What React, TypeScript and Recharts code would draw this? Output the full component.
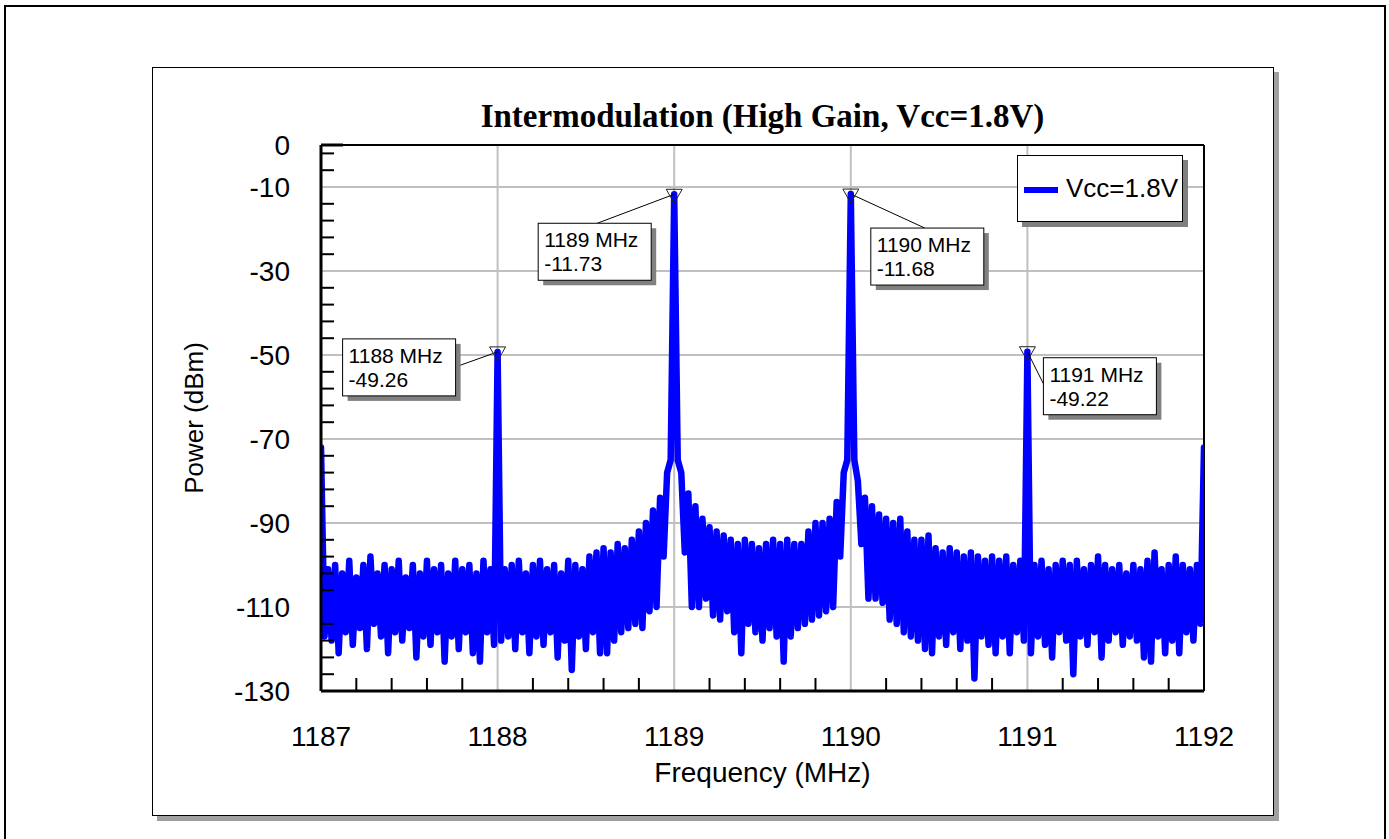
import React from 'react';
import { LineChart, Line, XAxis, YAxis, CartesianGrid, ReferenceLine, ReferenceDot, Legend } from 'recharts';

// spectrum trace, 0.02 MHz per point, one array per MHz
const START_MHZ = 1187;
const STEP_MHZ = 0.02;

const SEG_1187 = [
  -72, -117, -101, -118, -100, -121, -102, -116, -99, -119,
  -103, -115, -100, -120, -98, -114, -102, -117, -100, -121,
  -101, -116, -99, -118, -103, -115, -100, -122, -102, -117,
  -99, -119, -101, -116, -100, -123, -102, -117, -99, -120,
  -101, -116, -100, -121, -102, -123, -99, -116, -101, -119,
];
const SEG_1188 = [
  -49.26, -118, -101, -117, -100, -120, -99, -116, -102, -121,
  -100, -117, -99, -119, -101, -116, -100, -122, -102, -118,
  -99, -125, -100, -117, -101, -120, -98, -116, -97, -121,
  -96, -121, -97, -118, -95, -116, -96, -115, -94, -114,
  -92, -115, -90, -111, -87, -110, -84, -98, -78, -75,
];
const SEG_1189 = [
  -11.73, -75, -78, -97, -83, -110, -86, -110, -89, -108,
  -91, -112, -92, -113, -93, -111, -94, -116, -95, -121,
  -94, -114, -95, -116, -96, -118, -95, -115, -94, -117,
  -95, -123, -94, -117, -95, -115, -95, -114, -92, -113,
  -90, -112, -90, -111, -89, -110, -85, -98, -78, -75,
];
const SEG_1190 = [
  -11.68, -75, -80, -95, -84, -108, -86, -108, -88, -109,
  -89, -113, -90, -114, -89, -116, -92, -117, -94, -118,
  -94, -120, -93, -121, -96, -117, -97, -119, -96, -116,
  -97, -120, -98, -118, -97, -127, -98, -117, -99, -119,
  -98, -121, -99, -117, -98, -121, -100, -116, -99, -118,
];
const SEG_1191 = [
  -49.22, -121, -100, -117, -99, -119, -101, -122, -100, -116,
  -99, -118, -100, -126, -99, -117, -101, -119, -100, -116,
  -98, -122, -100, -118, -101, -116, -100, -119, -102, -117,
  -100, -118, -101, -122, -99, -123, -97, -117, -101, -121,
  -100, -118, -98, -121, -100, -116, -101, -118, -100, -114,
];
const LAST_POINT = -72;

const X_LABELS = [1187, 1188, 1189, 1190, 1191, 1192];
const X_MINOR = [
  1187.2, 1187.4, 1187.6, 1187.8, 1188.2, 1188.4, 1188.6, 1188.8,
  1189.2, 1189.4, 1189.6, 1189.8, 1190.2, 1190.4, 1190.6, 1190.8,
  1191.2, 1191.4, 1191.6, 1191.8,
];
const Y_LABELS = [0, -10, -30, -50, -70, -90, -110, -130];
const Y_MINOR = [
  -2, -6, -14, -18, -22, -26, -34, -38, -42, -46, -54, -58, -62,
  -66, -74, -78, -82, -86, -94, -98, -102, -106, -114, -118, -122, -126,
];
const GRID_X = [1188, 1189, 1190, 1191];
const GRID_Y = [-10, -30, -50, -70, -90, -110];

const MARKER_MHZ = [1188, 1189, 1190, 1191];
const MARKER_DBM = [-49.26, -11.73, -11.68, -49.22];
// where each marker's note box sits, relative to the marker
const NOTE_POS = [
  { dx: -155, dy: -13, lx: -42, ly: 15 },
  { dx: -136, dy: 29, lx: -77, ly: 29 },
  { dx: 20, dy: 34, lx: 74, ly: 34 },
  { dx: 16, dy: 6, lx: 16, ly: 32 },
];

const levels = [...SEG_1187, ...SEG_1188, ...SEG_1189, ...SEG_1190, ...SEG_1191, LAST_POINT];
const data = levels.map((p, i) => ({ freq: +(START_MHZ + i * STEP_MHZ).toFixed(2), power: p }));

const FONT = "Arial, 'Liberation Sans', sans-serif";

const XTick = (props: any) => {
  const { x, y, payload } = props;
  const v = payload.value;
  const major = X_LABELS.includes(v);
  return (
    <g>
      {!major && <line x1={x} x2={x} y1={y} y2={y - 13} stroke="#000" strokeWidth={2} />}
      {major && (
        <text x={x} y={y + 55} textAnchor="middle" fontSize={28} fontFamily={FONT} fill="#000">
          {v}
        </text>
      )}
    </g>
  );
};

const YTick = (props: any) => {
  const { x, y, payload } = props;
  const v = payload.value;
  const major = Y_LABELS.includes(v);
  return (
    <g>
      {!major && <line x1={x} x2={x + 13} y1={y} y2={y} stroke="#000" strokeWidth={2} />}
      {v === 0 && <line x1={x} x2={x + 22} y1={y} y2={y} stroke="#000" strokeWidth={3} />}
      {major && (
        <text x={x - 31} y={y} dy="0.35em" textAnchor="end" fontSize={28} fontFamily={FONT} fill="#000">
          {v}
        </text>
      )}
    </g>
  );
};

const Note = ({ cx, cy, i }: { cx: number; cy: number; i: number }) => {
  const p = NOTE_POS[i];
  const bx = cx + p.dx;
  const by = cy + p.dy;
  return (
    <g>
      <line x1={cx} y1={cy} x2={cx + p.lx} y2={cy + p.ly} stroke="#000" strokeWidth={1} />
      <polygon
        points={`${cx - 8},${cy - 5} ${cx + 8},${cy - 5} ${cx},${cy + 9}`}
        fill="none"
        stroke="#222"
        strokeWidth={1}
      />
      <rect x={bx + 5} y={by + 5} width={113} height={57} fill="#808080" />
      <rect x={bx} y={by} width={113} height={57} fill="#fff" stroke="#000" strokeWidth={1} />
      <text x={bx + 6} y={by + 24} fontSize={21} fontFamily={FONT} fill="#000">
        {MARKER_MHZ[i]} MHz
      </text>
      <text x={bx + 6} y={by + 48} fontSize={21} fontFamily={FONT} fill="#000">
        {MARKER_DBM[i].toFixed(2)}
      </text>
    </g>
  );
};

const LegendBox = (props: any) => {
  const item = props.payload && props.payload[0];
  return (
    <div style={{ position: 'relative', width: 166, height: 67 }}>
      <div style={{ position: 'absolute', left: 5, top: 5, width: 166, height: 67, background: '#808080' }} />
      <div
        style={{
          position: 'absolute', left: 0, top: 0, width: 164, height: 65,
          background: '#fff', border: '1px solid #000',
        }}
      >
        <div style={{ position: 'absolute', left: 6, top: 31, width: 34, height: 6, background: '#0000ff' }} />
        <div style={{ position: 'absolute', left: 48, top: 17, fontSize: 26, lineHeight: '30px', fontFamily: FONT, color: '#000' }}>
          {item ? item.value : 'Vcc=1.8V'}
        </div>
      </div>
    </div>
  );
};

export default function App() {
  return (
    <div
      style={{
        position: 'fixed', left: 0, top: 0, width: 1389, height: 839,
        overflow: 'hidden', background: '#fff', fontFamily: FONT,
      }}
    >
      <div style={{ position: 'absolute', left: 4, top: 5, width: 1378, height: 880, border: '2px solid #000' }} />
      <div
        style={{
          position: 'absolute', left: 152, top: 67, width: 1120, height: 747,
          border: '1px solid #000', background: '#fff', boxShadow: '5px 5px 0 #a0a0a0',
        }}
      />
      <div style={{ position: 'absolute', left: 0, top: 0 }}>
        <LineChart width={1389} height={839} data={data} margin={{ top: 145, right: 185, bottom: 48, left: 67 }}>
          <CartesianGrid
            horizontalValues={GRID_Y}
            verticalValues={GRID_X}
            stroke="#c0c0c0"
            strokeWidth={2}
            strokeDasharray=""
          />
          <XAxis
            dataKey="freq"
            type="number"
            domain={[1187, 1192]}
            allowDataOverflow
            ticks={[...X_LABELS, ...X_MINOR]}
            interval={0}
            tick={<XTick />}
            tickLine={false}
            tickSize={0}
            tickMargin={0}
            height={100}
            axisLine={{ stroke: '#000', strokeWidth: 3 }}
            label={{ value: 'Frequency (MHz)', position: 'insideBottom', offset: 9, fontSize: 28, fontFamily: FONT, fill: '#000' }}
          />
          <YAxis
            type="number"
            domain={[-130, 0]}
            allowDataOverflow
            ticks={[...Y_LABELS, ...Y_MINOR]}
            interval={0}
            tick={<YTick />}
            tickLine={false}
            tickSize={0}
            tickMargin={0}
            width={254}
            axisLine={{ stroke: '#000', strokeWidth: 3 }}
            label={{ value: 'Power (dBm)', angle: -90, position: 'center', fontSize: 26, fontFamily: FONT, fill: '#000' }}
          />
          <ReferenceLine y={0} stroke="#000" strokeWidth={2} />
          <ReferenceLine x={1192} stroke="#000" strokeWidth={2} />
          <Line
            type="linear"
            dataKey="power"
            name="Vcc=1.8V"
            stroke="#0000ff"
            strokeWidth={6.5}
            strokeLinejoin="round"
            strokeLinecap="round"
            dot={false}
            activeDot={false}
            isAnimationActive={false}
          />
          {MARKER_MHZ.map((f, i) => (
            <ReferenceDot
              key={f}
              x={f}
              y={MARKER_DBM[i]}
              r={0}
              ifOverflow="visible"
              shape={(p: any) => <Note cx={p.cx} cy={p.cy} i={i} />}
            />
          ))}
          <Legend
            layout="vertical"
            align="center"
            verticalAlign="middle"
            wrapperStyle={{ left: 1017, top: 155, width: 172, height: 73 }}
            content={<LegendBox />}
          />
        </LineChart>
      </div>
      <div
        style={{
          position: 'absolute', left: 321, top: 100, width: 883, textAlign: 'center',
          fontFamily: "'Times New Roman', 'Liberation Serif', serif", fontWeight: 'bold',
          fontSize: 33, lineHeight: '33px', color: '#000', whiteSpace: 'nowrap',
        }}
      >
        Intermodulation (High Gain, Vcc=1.8V)
      </div>
    </div>
  );
}
